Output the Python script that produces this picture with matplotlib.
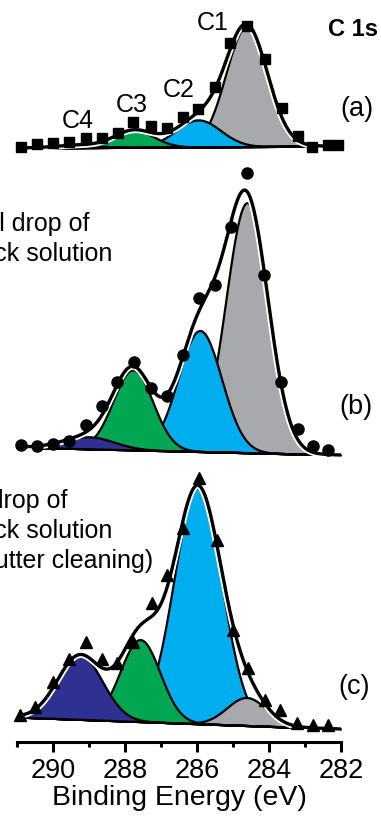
import numpy as np
import matplotlib
matplotlib.use("Agg")
import matplotlib.pyplot as plt
import matplotlib.patheffects as pe

plt.rcParams["font.family"] = ["Liberation Sans", "DejaVu Sans"]

# ------------------------------------------------------------
# data (intensity in a.u., spectra stacked with offsets)
# ------------------------------------------------------------
energy_a = [290.89, 290.44, 290.0, 289.56, 289.08, 288.64, 288.19, 287.78, 287.28, 286.83,
            286.39, 285.97, 285.5, 285.08, 284.61, 284.11, 283.64, 283.19, 282.81, 282.36, 282.08]
counts_a = [595, 598, 599, 600, 604, 604, 609, 620, 616, 614,
            625, 633, 655, 699, 716, 683, 634, 606, 595, 597, 597]

energy_b = [290.89, 290.44, 290.0, 289.56, 289.08, 288.64, 288.22, 287.75, 287.28, 286.83,
            286.39, 285.94, 285.5, 285.06, 284.61, 284.14, 283.67, 283.19, 282.78, 282.36]
counts_b = [297, 296, 298, 301, 317, 336, 360, 380, 354, 346,
            387, 444, 457, 515, 569, 467, 360, 313, 296, 292]

energy_c = [290.92, 290.5, 290.0, 289.56, 289.08, 288.64, 288.22, 287.78, 287.25, 286.83,
            286.39, 285.94, 285.44, 285.0, 284.58, 284.11, 283.69, 283.22, 282.78, 282.36]
counts_c = [27, 35, 60, 83, 100, 83, 79, 100, 139, 167,
            214, 264, 202, 112, 74, 42, 32, 19, 17, 17]

# fitted components C1..C4: centre (eV), height, sigma (eV)
centers_a = [284.62, 285.97, 287.75, 289.3]
heights_a = [120, 27, 17, 2.5]
sigmas_a = [0.58, 0.62, 0.55, 0.6]

centers_b = [284.61, 285.92, 287.78, 289.0]
heights_b = [250, 121, 80, 12]
sigmas_b = [0.59, 0.6, 0.55, 0.7]

centers_c = [284.62, 285.98, 287.58, 289.25]
heights_c = [28, 236, 82, 64]
sigmas_c = [0.55, 0.66, 0.55, 0.62]

# linear background (value at 291 eV, value at 282 eV)
background_a = [594, 596]
background_b = [295, 287]
background_c = [25, 13]

component_names = ["C1", "C2", "C3", "C4"]
component_colors = ["#A7A9AC", "#00AEEF", "#00A651", "#2E3192"]

W, H = 381, 821


def px(x, y):
    """pixel position -> figure fraction"""
    return x / W, 1 - y / H


def gauss(e, c, h, s):
    return h * np.exp(-(e - c) ** 2 / (2 * s ** 2))


def draw_spectrum(ax, energy, counts, centers, heights, sigmas, background, marker, ms, order):
    e = np.linspace(290.92, 282.03, 500)
    base = np.interp(e, [282, 291], background[::-1])
    comps = [gauss(e, c, h, s) for c, h, s in zip(centers, heights, sigmas)]
    for i in order:
        ax.fill_between(e, base, base + comps[i], facecolor=component_colors[i],
                        edgecolor="k", linewidth=1.6, zorder=2 + order.index(i))
    env = base + np.sum(comps, axis=0)
    ax.plot(e, env, color="k", lw=2.4, zorder=10,
            path_effects=[pe.Stroke(linewidth=5, foreground="white"), pe.Normal()])
    ax.plot(energy, counts, ls="none", marker=marker, ms=ms, color="k", zorder=11,
            clip_on=False)


fig = plt.figure(figsize=(W / 100, H / 100), dpi=100)
ax = fig.add_axes([17 / W, 79 / H, 324 / W, 742 / H])

draw_spectrum(ax, energy_a, counts_a, centers_a, heights_a, sigmas_a, background_a,
              "s", 6.5, [0, 1, 2, 3])
draw_spectrum(ax, energy_b, counts_b, centers_b, heights_b, sigmas_b, background_b,
              "o", 8, [0, 1, 2, 3])
draw_spectrum(ax, energy_c, counts_c, centers_c, heights_c, sigmas_c, background_c,
              "^", 9, [1, 0, 2, 3])

ax.set_xlim(291, 282)
ax.set_ylim(0, 742)
ax.set_xticks([290, 288, 286, 284, 282])
ax.set_xticks([291, 289, 287, 285, 283], minor=True)
ax.tick_params(axis="x", which="major", length=7.5, width=2.2, labelsize=19.5, pad=4)
ax.tick_params(axis="x", which="minor", length=3.8, width=2.2)
ax.set_yticks([])
for side in ["left", "right", "top"]:
    ax.spines[side].set_visible(False)
ax.spines["bottom"].set_linewidth(2.2)
ax.set_xlabel("Binding Energy (eV)", fontsize=20.5, labelpad=1)
ax.patch.set_alpha(0)

# component labels
for name, (x, y) in zip(component_names, [(213, 23), (179, 90), (132, 105), (78, 121)]):
    fig.text(*px(x, y), name, fontsize=18, ha="center", va="center")

fig.text(*px(353, 30), "C 1s", fontsize=17, fontweight="bold", ha="center", va="center")
fig.text(*px(357, 109), "(a)", fontsize=19.5, ha="center", va="center")
fig.text(*px(356, 407), "(b)", fontsize=19.5, ha="center", va="center")
fig.text(*px(354, 687), "(c)", fontsize=19.5, ha="center", va="center")

# sample descriptions (cut by the left edge, as in the original)
for txt, x, y in [("10 μl drop of", 89, 231), ("stock solution", 112, 261),
                  ("1 μl drop of", 67, 508), ("stock solution", 112, 538),
                  ("(after sputter cleaning)", 153, 568)]:
    fig.text(*px(x, y), txt, fontsize=18, ha="right", va="baseline")

fig.savefig("out.png", dpi=100)
